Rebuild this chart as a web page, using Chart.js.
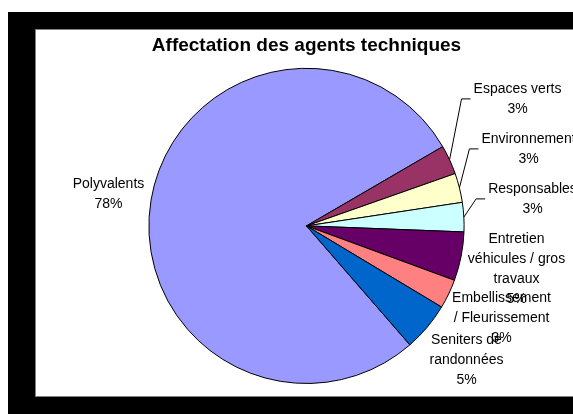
<!DOCTYPE html>
<html lang="fr">
<head>
<meta charset="utf-8">
<title>Affectation des agents techniques</title>
<script src="https://cdn.jsdelivr.net/npm/chart.js@4.4.1/dist/chart.umd.min.js"></script>
<style>
  html, body { margin: 0; padding: 0; background: #fff; }
  body { width: 573px; height: 414px; position: relative; overflow: hidden; font-family: "Liberation Sans", Arial, sans-serif; }
  #frame { position: absolute; left: 8px; top: 12px; width: 565px; height: 402px; background: #000; }
  #inner { position: absolute; left: 35px; top: 29px; width: 538px; height: 368px; background: #fff;
           box-sizing: border-box; border-top: 1px solid #808080; border-left: 1px solid #808080; border-bottom: 1px solid #808080; }
  #wrap { position: absolute; left: 35px; top: 29px; width: 538px; height: 368px; }
</style>
</head>
<body>
<div id="frame"></div>
<div id="inner"></div>
<div id="wrap"><canvas id="pie" width="538" height="368"></canvas></div>
<script>
// données
const categories = [
  'Polyvalents',
  'Espaces verts',
  'Environnement',
  'Responsables',
  'Entretien véhicules / gros travaux',
  'Embellissement / Fleurissement',
  'Seniters de randonnées'
];
const values = [78, 3, 3, 3, 5, 3, 5];
const labelLines = [
  ['Polyvalents'],
  ['Espaces verts'],
  ['Environnement'],
  ['Responsables'],
  ['Entretien', 'véhicules / gros', 'travaux'],
  ['Embellissement', '/ Fleurissement'],
  ['Seniters de', 'randonnées']
];

// mise en forme
const colors = ['#9999FF', '#993366', '#FFFFCC', '#CCFFFF', '#660066', '#FF8080', '#0066CC'];
// position du centre de la 1re ligne de chaque étiquette, relative au centre du camembert
const labelOffsets = [[-198, -42], [211, -137], [222, -87], [226, -37], [210, 13], [195, 72], [160, 114]];
const withLeader = [false, true, true, true, false, false, false];
const LINE_H = 20;
const FONT = '"Liberation Sans", Arial, sans-serif';

document.addEventListener('DOMContentLoaded', () => {
  const total = values.reduce((a, b) => a + b, 0);
  const pct = v => Math.round(v / total * 100) + '%';

  const dataLabels = {
    id: 'dataLabels',
    afterDatasetsDraw(chart) {
      const ctx = chart.ctx;
      const meta = chart.getDatasetMeta(0);
      ctx.save();
      ctx.font = '14px ' + FONT;
      ctx.fillStyle = '#000';
      ctx.strokeStyle = '#000';
      ctx.lineWidth = 1;
      ctx.textAlign = 'center';
      ctx.textBaseline = 'middle';
      meta.data.forEach((arc, i) => {
        const p = arc.getProps(['x', 'y', 'startAngle', 'endAngle', 'outerRadius'], true);
        const lines = labelLines[i].concat([pct(values[i])]);
        const lx = p.x + labelOffsets[i][0];
        const ly = p.y + labelOffsets[i][1];
        if (withLeader[i]) {
          const mid = (p.startAngle + p.endAngle) / 2;
          const w = Math.max(...lines.map(t => ctx.measureText(t).width));
          const left = lx - w / 2;
          const my = ly + (lines.length - 1) * LINE_H / 2;
          ctx.beginPath();
          ctx.moveTo(p.x + Math.cos(mid) * p.outerRadius, p.y + Math.sin(mid) * p.outerRadius);
          ctx.lineTo(left - 12, my);
          ctx.lineTo(left - 3, my);
          ctx.stroke();
        }
        lines.forEach((t, k) => ctx.fillText(t, lx, ly + k * LINE_H));
      });
      ctx.restore();
    }
  };

  new Chart(document.getElementById('pie'), {
    type: 'pie',
    data: {
      labels: categories,
      datasets: [{
        data: values,
        backgroundColor: colors,
        borderColor: '#000',
        borderWidth: 1
      }]
    },
    options: {
      responsive: false,
      animation: false,
      rotation: 139,
      layout: { padding: { left: 5, right: 0, top: 0, bottom: 13 } },
      plugins: {
        legend: { display: false },
        tooltip: { enabled: false },
        title: {
          display: true,
          text: 'Affectation des agents techniques',
          color: '#000',
          font: { family: FONT, size: 19, weight: 'bold', lineHeight: 1.2 },
          padding: { top: 5, bottom: 11 }
        }
      }
    },
    plugins: [dataLabels]
  });
});
</script>
</body>
</html>
